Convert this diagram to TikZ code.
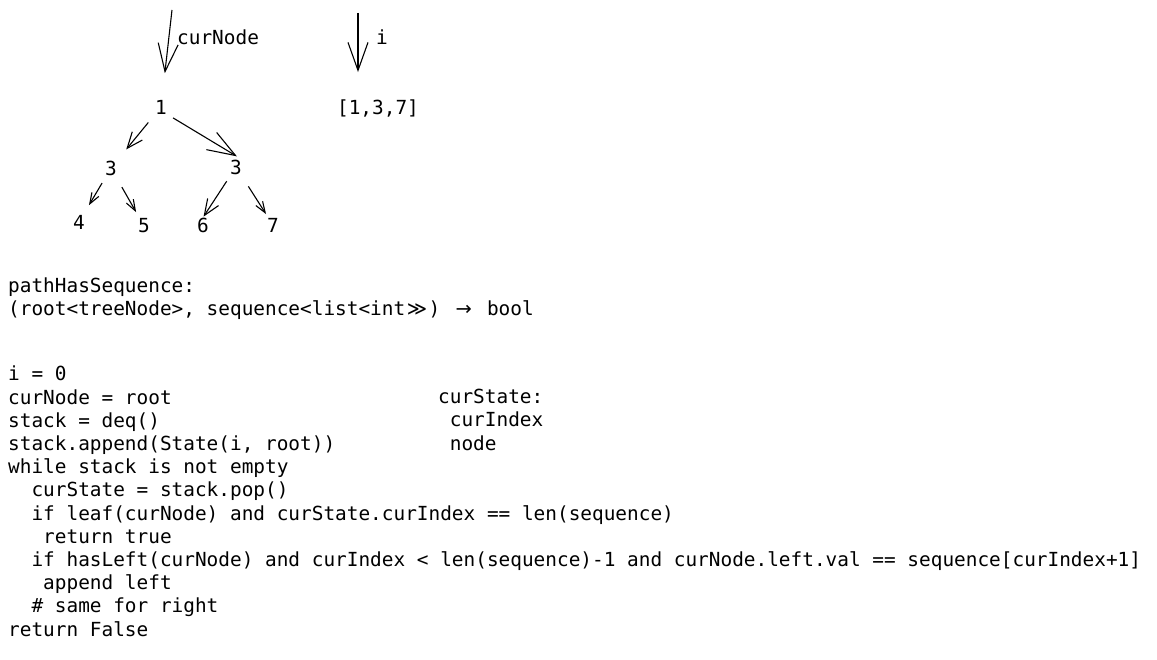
\documentclass[tikz,border=0pt]{standalone}
\usepackage{fontspec}
\setmonofont{DejaVu Sans Mono}
\newfontfamily\ligfont{DejaVu Sans}
\usetikzlibrary{arrows.meta}
% a two-cell wide glyph, like a code ligature
\newcommand{\twocell}[1]{\makebox[1.204em]{\ligfont #1}}

\begin{document}
\begin{tikzpicture}[x=1pt,y=-1pt,
  every node/.style={inner sep=0pt, font=\ttfamily\fontsize{19.4pt}{23.2pt}\selectfont},
  bigarrow/.style={line width=1.1pt, -{Straight Barb[length=28pt,width=20pt]}},
  midarrow/.style={line width=1.1pt, -{Straight Barb[length=16pt,width=13pt]}},
  smallarrow/.style={line width=1.1pt, -{Straight Barb[length=11pt,width=8pt]}}]
\useasboundingbox (0,0) rectangle (1157,660);

% Tree
\node (n1) at (161,107) {1};
\node (l3) at (111,168) {3};
\node (r3) at (236,167) {3};
\node (n4) at (79,222) {4};
\node (n5) at (144,226) {5};
\node (n6) at (203,225) {6};
\node (n7) at (273,225) {7};

\draw[midarrow, shorten <=20pt, shorten >=24pt] (n1.center) -- (l3.center);
\draw[bigarrow, shorten <=7pt, shorten >=6pt] (n1.south east) -- (r3.north east);
\draw[smallarrow, shorten <=17.5pt, shorten >=19.5pt] (l3.center) -- (n4.center);
\draw[smallarrow, shorten <=22pt, shorten >=16pt] (l3.center) -- (n5.center);
\draw[midarrow, shorten <=17pt, shorten >=1pt] (r3.center) -- (n6.north);
\draw[smallarrow, shorten <=23pt, shorten >=13pt] (r3.center) -- (n7.center);

% Pointers
\coordinate (curTop) at (172,10);
\coordinate (iTop) at (358,13);
\node (seq) [anchor=base] at (378,115) {[1,3,7]};
\node (curLbl) [anchor=base west] at (177,45) {curNode};
\node (iLbl) [anchor=base west] at (376,45) {i};
\draw[bigarrow, shorten >=34pt] (curTop) -- (n1.center);
\draw[bigarrow, shorten >=28pt] (iTop) -- (iTop |- seq.north);

% Signature (base = last line)
\node (sig) [anchor=base west, align=left] at (8,316) {pathHasSequence:\\
(root<treeNode>, sequence<list<int\twocell{≫}) \twocell{→} bool};

% Code (base = last line)
\node (code) [anchor=base west, align=left] at (8,636) {i = 0\\
curNode = root\\
stack = deq()\\
stack.append(State(i, root))\\
while stack is not empty\\
\ \ curState = stack.pop()\\
\ \ if leaf(curNode) and curState.curIndex == len(sequence)\\
\ \ \ return true\\
\ \ if hasLeft(curNode) and curIndex < len(sequence)-1 and curNode.left.val == sequence[curIndex+1]\\
\ \ \ append left\\
\ \ \# same for right\\
return False};

% State
\node (state) [anchor=base west, align=left] at (438,450) {curState:\\
\ curIndex\\
\ node};
\end{tikzpicture}
\end{document}
